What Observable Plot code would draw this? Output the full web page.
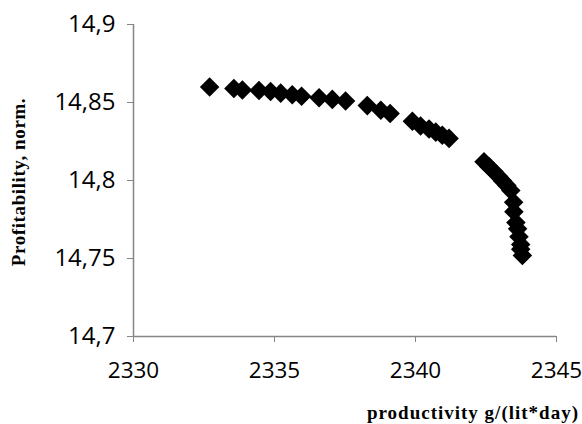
<!DOCTYPE html>
<html>
<head>
<meta charset="utf-8">
<script src="https://cdn.jsdelivr.net/npm/d3@7"></script>
<script src="https://cdn.jsdelivr.net/npm/@observablehq/plot@0.6"></script>
<style>
  html, body { margin: 0; padding: 0; background: #fff; }
</style>
</head>
<body>
<div id="chart"></div>
<script>
const productivity = [2332.70, 2333.56, 2333.86, 2334.45, 2334.86, 2335.22, 2335.63, 2335.96, 2336.58, 2337.05, 2337.52, 2338.29, 2338.77, 2339.10, 2339.89, 2340.18, 2340.48, 2340.72, 2340.95, 2341.19, 2342.43, 2342.60, 2342.78, 2342.95, 2343.09, 2343.24, 2343.38, 2343.48, 2343.49, 2343.56, 2343.62, 2343.67, 2343.73, 2343.73, 2343.79];
const profitability = [14.860, 14.859, 14.858, 14.8577, 14.857, 14.856, 14.855, 14.854, 14.853, 14.852, 14.851, 14.848, 14.845, 14.843, 14.838, 14.835, 14.833, 14.831, 14.829, 14.827, 14.812, 14.809, 14.8058, 14.8026, 14.7997, 14.7968, 14.7936, 14.786, 14.780, 14.773, 14.769, 14.764, 14.759, 14.756, 14.752];
const xTicks = [2330, 2335, 2340, 2345];
const yTicks = [14.7, 14.75, 14.8, 14.85, 14.9];
const xTitle = "productivity g/(lit*day)";
const yTitle = "Profitability, norm.";

const data = productivity.map((p, i) => ({x: p, y: profitability[i]}));
const fmt = d => String(d).replace(".", ",");
const axisColor = "#868686";

const plot = Plot.plot({
  width: 582,
  height: 424,
  marginLeft: 133,
  marginRight: 26,
  marginTop: 24,
  marginBottom: 88,
  style: {fontFamily: "'Open Sans', sans-serif", fontSize: "24px", color: "black", background: "white"},
  x: {domain: [2330, 2345]},
  y: {domain: [14.7, 14.9]},
  marks: [
    Plot.axisX({ticks: xTicks, tickFormat: fmt, tickSize: 6, tickPadding: 20, stroke: axisColor, fill: "black", label: null, fontSize: 22.5}),
    Plot.axisY({ticks: yTicks, tickFormat: fmt, tickSize: 6, tickPadding: 12, stroke: axisColor, fill: "black", label: null, fontSize: 24}),
    Plot.ruleX([2330], {stroke: axisColor, strokeWidth: 1.5}),
    Plot.ruleY([14.7], {stroke: axisColor, strokeWidth: 1.5}),
    Plot.dot(data, {x: "x", y: "y", symbol: "diamond2", r: 8.8, fill: "black", stroke: "none"})
  ]
});

const svg = d3.select(plot);
svg.append("text")
  .attr("x", 579).attr("y", 419)
  .attr("text-anchor", "end")
  .attr("font-family", "'Liberation Serif', 'Times New Roman', serif")
  .attr("font-weight", "bold")
  .attr("font-size", "19px")
  .attr("letter-spacing", "1px")
  .attr("fill", "black")
  .text(xTitle);
svg.append("text")
  .attr("transform", "translate(25,182) rotate(-90)")
  .attr("text-anchor", "middle")
  .attr("font-family", "'Liberation Serif', 'Times New Roman', serif")
  .attr("font-weight", "bold")
  .attr("font-size", "19px")
  .attr("letter-spacing", "0.6px")
  .attr("fill", "black")
  .text(yTitle);

document.getElementById("chart").appendChild(plot);
</script>
</body>
</html>
